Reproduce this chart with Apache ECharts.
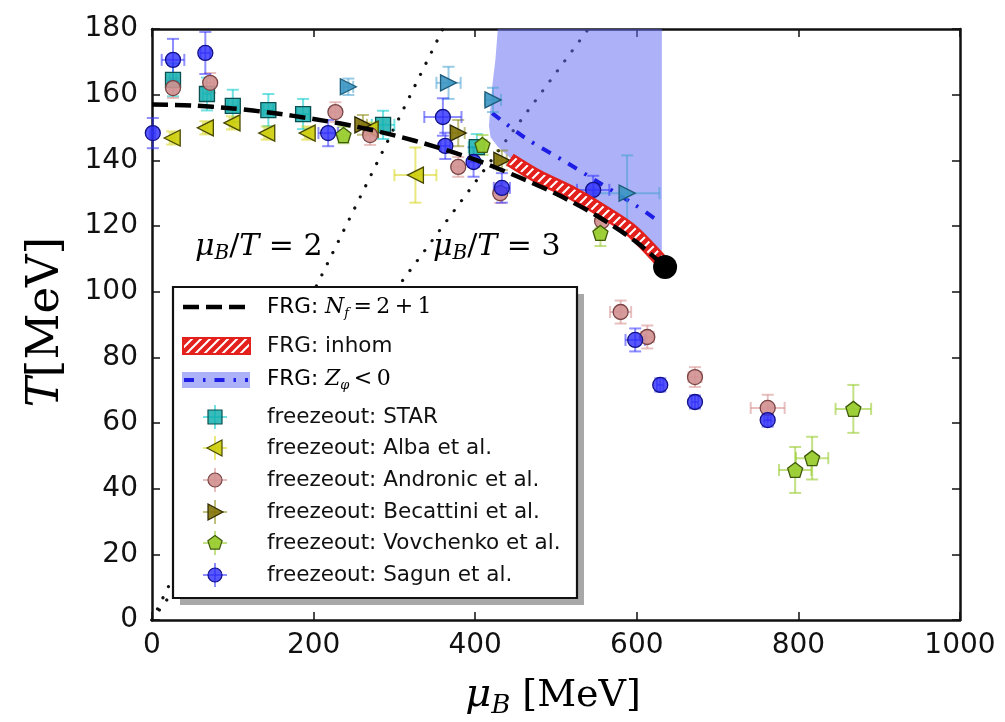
<!DOCTYPE html>
<html><head><meta charset="utf-8">
<script src="https://cdn.jsdelivr.net/npm/echarts@6/dist/echarts.min.js"></script>
<style>html,body{margin:0;padding:0;background:#fff}#c{width:1005px;height:722px}</style>
</head><body><div id="c"></div>
<script>
// ---------- data ----------
const xTicks = [0, 200, 400, 600, 800, 1000];
const yTicks = [0, 20, 40, 60, 80, 100, 120, 140, 160, 180];

// FRG Nf=2+1 crossover line
const frgMu = [0, 50, 100, 150, 200, 250, 300, 350, 400, 450, 500, 550, 600, 635];
const frgT  = [157.0, 156.7, 155.8, 154.4, 152.6, 150.4, 147.6, 144.2, 140.2, 135.3, 129.8, 123.2, 115.0, 107.5];
const cepMu = [635];
const cepT  = [107.5];

// FRG inhomogeneous band (centre line)
const inhomMu = [443, 478, 520, 561, 594, 635];
const inhomT  = [140.2, 135.0, 130.0, 124.0, 118.5, 108.0];

// FRG Z_phi < 0 region boundary and line
const zRegionMu = [428, 425, 421, 418.6, 417, 419, 428, 443, 458, 499, 540, 582, 610, 631, 631];
const zRegionT  = [180, 170.6, 162.4, 155.3, 150.5, 147.0, 144.1, 140.8, 138.5, 133.0, 127.5, 121.0, 115.5, 110.0, 180];
const zLineMu = [421, 462, 508, 552, 598, 625];
const zLineT  = [154.4, 146.8, 140.1, 133.4, 126.4, 121.8];

// mu_B / T = const lines
const ratio2Mu = [0, 360];
const ratio2T  = [0, 180];
const ratio3Mu = [0, 540];
const ratio3T  = [0, 180];

// freeze-out data: mu, T, mu error, T error
const starMu = [26, 68, 100, 144, 187, 286, 402];
const starT  = [164.5, 160.2, 156.6, 155.3, 154.1, 150.8, 144.0];
const starMuErr = [4, 5, 6, 6, 8, 14, 10];
const starTErr  = [5, 5, 4.9, 4.9, 4.6, 4.3, 4.0];

const albaMu = [25, 66, 99, 142, 192, 270, 326];
const albaT  = [146.8, 149.9, 151.4, 148.3, 148.3, 149.5, 135.5];
const albaMuErr = [3, 3, 3, 3, 3, 4, 26];
const albaTErr  = [2, 2, 2, 2, 2, 2, 8.4];

const andMu = [26, 72, 227, 270, 379, 431, 557, 580, 613, 672, 762];
const andT  = [162.0, 163.6, 154.7, 147.7, 138.0, 130.0, 121.5, 93.8, 86.2, 74.0, 64.6];
const andMuErr = [4, 5, 6, 6, 6, 6, 6, 13, 8, 8, 21];
const andTErr  = [3, 3, 3, 3, 3, 3, 3, 3.5, 3.5, 3, 4];

const becMu = [261, 379, 433];
const becT  = [150.8, 148.3, 140.0];
const becMuErr = [5, 8, 6];
const becTErr  = [3, 4, 3];

const bec2Mu = [243, 367, 422, 588];
const bec2T  = [162.4, 163.6, 158.4, 130.0];
const bec2MuErr = [6, 15, 10, 40];
const bec2TErr  = [2.5, 4.9, 3.7, 11.5];

const vovMu = [237, 409, 555, 796, 817, 868];
const vovT  = [147.7, 144.7, 117.9, 45.7, 49.3, 64.3];
const vovMuErr = [4, 5, 6, 20, 20, 22];
const vovTErr  = [2.5, 3, 4, 7, 6.5, 7.3];

const sagMu = [1, 26, 66, 218, 360, 363, 398, 433, 546, 598, 629, 672, 762];
const sagT  = [148.3, 170.6, 172.7, 148.3, 153.2, 144.4, 139.5, 131.6, 131.0, 85.3, 71.6, 66.4, 60.9];
const sagMuErr = [3, 14, 6, 12, 23, 6, 6, 10, 20, 12, 4, 4, 4];
const sagTErr  = [4.6, 6.4, 6.4, 4.0, 5.7, 4.0, 4.5, 4.5, 4.3, 3.5, 2, 2, 2];

// ---------- helpers ----------
const zip = (a, b) => a.map((v, i) => [v, b[i]]);
const SQ = 'rect';
const TRI_L = 'path://M-10,0 L8,-10 L8,10 Z';
const TRI_R = 'path://M10,0 L-8,-10 L-8,10 Z';
const PENT = 'path://M0,-10 L9.51,-3.09 L5.88,8.09 L-5.88,8.09 L-9.51,-3.09 Z';

function hatchCanvas() {
  const c = document.createElement('canvas');
  c.width = 9; c.height = 9;
  const g = c.getContext('2d');
  g.fillStyle = '#e3201c'; g.fillRect(0, 0, 9, 9);
  g.strokeStyle = '#ffffff'; g.lineWidth = 2;
  g.beginPath();
  g.moveTo(-2, 11); g.lineTo(11, -2);
  g.moveTo(-2, 2); g.lineTo(2, -2);
  g.moveTo(7, 11); g.lineTo(11, 7);
  g.stroke();
  return c;
}
const hatch = hatchCanvas();

const errRender = (color) => (params, api) => {
  const x = api.value(0), y = api.value(1), xe = api.value(2), ye = api.value(3);
  const c = api.coord([x, y]);
  const cap = 6, st = { stroke: color, lineWidth: 2 };
  const ch = [];
  if (ye > 0) {
    const t = api.coord([x, y + ye]), b = api.coord([x, y - ye]);
    ch.push({ type: 'line', shape: { x1: c[0], y1: t[1], x2: c[0], y2: b[1] }, style: st });
    ch.push({ type: 'line', shape: { x1: c[0] - cap, y1: t[1], x2: c[0] + cap, y2: t[1] }, style: st });
    ch.push({ type: 'line', shape: { x1: c[0] - cap, y1: b[1], x2: c[0] + cap, y2: b[1] }, style: st });
  }
  if (xe > 0) {
    const l = api.coord([x - xe, y]), r = api.coord([x + xe, y]);
    ch.push({ type: 'line', shape: { x1: l[0], y1: c[1], x2: r[0], y2: c[1] }, style: st });
    ch.push({ type: 'line', shape: { x1: l[0], y1: c[1] - cap, x2: l[0], y2: c[1] + cap }, style: st });
    ch.push({ type: 'line', shape: { x1: r[0], y1: c[1] - cap, x2: r[0], y2: c[1] + cap }, style: st });
  }
  return { type: 'group', children: ch };
};

function freeze(name, mu, T, muE, TE, sym, size, fill, edge, errC) {
  return [
    { type: 'custom', name: name + ' err', z: 4, silent: true,
      data: mu.map((m, i) => [m, T[i], muE[i], TE[i]]),
      encode: { x: 0, y: 1 }, renderItem: errRender(errC) },
    { type: 'scatter', name: name, z: 5, silent: true,
      data: zip(mu, T), symbol: sym, symbolSize: size,
      itemStyle: { color: fill, borderColor: edge, borderWidth: 1.3, opacity: 1 } }
  ];
}

const C = {
  star: ['rgba(20,175,175,0.85)', '#0b5050', 'rgba(0,200,200,0.55)'],
  alba: ['rgba(205,205,10,0.9)', '#4a4a00', 'rgba(210,210,0,0.5)'],
  and:  ['rgba(210,145,145,0.9)', '#7a4444', 'rgba(215,140,140,0.55)'],
  bec:  ['rgba(130,115,10,0.9)', '#2e2800', 'rgba(130,130,0,0.5)'],
  bec2: ['rgba(60,150,195,0.9)', '#1d5c7a', 'rgba(70,160,210,0.55)'],
  vov:  ['rgba(154,205,50,0.95)', '#3f5a0a', 'rgba(154,205,50,0.6)'],
  sag:  ['rgba(45,45,250,0.8)', '#10108a', 'rgba(50,50,255,0.55)']
};

const axisCommon = {
  type: 'value',
  axisLine: { show: true, onZero: false, lineStyle: { color: '#111', width: 2.5 } },
  axisTick: { show: true, inside: true, length: 8, lineStyle: { color: '#111', width: 1.5 } },
  splitLine: { show: false }
};
const labelStyle = { fontSize: 28, color: '#111', fontFamily: 'DejaVu Sans', formatter: v => String(v) };

const series = [
  { type: 'line', z: 1, data: zip(ratio2Mu, ratio2T), symbol: 'none', silent: true,
    lineStyle: { color: '#111', width: 3.2, type: [0.01, 12.4], cap: 'round' } },
  { type: 'line', z: 1, data: zip(ratio3Mu, ratio3T), symbol: 'none', silent: true,
    lineStyle: { color: '#111', width: 3.2, type: [0.01, 12.4], cap: 'round' } },
  { type: 'custom', z: 2, silent: true, data: [[zRegionMu[0], zRegionT[0]]],
    encode: { x: 0, y: 1 },
    renderItem: (params, api) => ({
      type: 'polygon',
      shape: { points: zRegionMu.map((m, i) => api.coord([m, zRegionT[i]])), smooth: 0 },
      style: { fill: 'rgba(95,105,242,0.52)', stroke: 'none' }
    }) },
  { type: 'line', z: 3, data: zip(zLineMu, zLineT), symbol: 'none', smooth: 0.3, silent: true,
    lineStyle: { color: '#1d1de6', width: 4, type: [10, 9, 2.5, 9] } },
  ...freeze('STAR', starMu, starT, starMuErr, starTErr, SQ, 15, ...C.star),
  ...freeze('Alba', albaMu, albaT, albaMuErr, albaTErr, TRI_L, 16, ...C.alba),
  ...freeze('Andronic', andMu, andT, andMuErr, andTErr, 'circle', 15, ...C.and),
  ...freeze('Becattini', becMu, becT, becMuErr, becTErr, TRI_R, 16, ...C.bec),
  ...freeze('Becattini2', bec2Mu, bec2T, bec2MuErr, bec2TErr, TRI_R, 16, ...C.bec2),
  ...freeze('Vovchenko', vovMu, vovT, vovMuErr, vovTErr, PENT, 15, ...C.vov),
  ...freeze('Sagun', sagMu, sagT, sagMuErr, sagTErr, 'circle', 15, ...C.sag),
  { type: 'line', z: 6, data: zip(inhomMu, inhomT), symbol: 'none', smooth: 0.3, silent: true,
    lineStyle: { color: '#e3201c', width: 14, cap: 'butt' } },
  { type: 'line', z: 6, data: zip(inhomMu, inhomT), symbol: 'none', smooth: 0.3, silent: true,
    lineStyle: { color: { image: hatch, repeat: 'repeat' }, width: 9, cap: 'butt' } },
  { type: 'line', z: 7, data: zip(frgMu, frgT), symbol: 'none', smooth: 0.3, silent: true,
    lineStyle: { color: '#000', width: 4.5, type: [16, 7] } },
  { type: 'scatter', z: 8, data: zip(cepMu, cepT), symbol: 'circle', symbolSize: 24, silent: true,
    itemStyle: { color: '#000', opacity: 1 } }
];

// ---------- legend (drawn) ----------
const LX = 173, LY = 287, LW = 404, LH = 311;
const legendText = { fontFamily: 'DejaVu Sans', fontSize: 21.5, fill: '#111' };
const mathRich = {
  r: { fontFamily: 'DejaVu Sans', fontSize: 21.5, color: '#111', lineHeight: 26 },
  mi: { fontFamily: 'DejaVu Serif', fontStyle: 'italic', fontSize: 22, color: '#111', lineHeight: 26 },
  sub: { fontFamily: 'DejaVu Serif', fontStyle: 'italic', fontSize: 13, color: '#111', lineHeight: 13, verticalAlign: 'bottom' },
  mn: { fontFamily: 'DejaVu Serif', fontSize: 22, color: '#111', lineHeight: 26 }
};
const legendMarkers = [
  ['freezeout: STAR', SQ, C.star, 417],
  ['freezeout: Alba et al.', TRI_L, C.alba, 448],
  ['freezeout: Andronic et al.', 'circle', C.and, 480],
  ['freezeout: Becattini et al.', TRI_R, C.bec, 512],
  ['freezeout: Vovchenko et al.', PENT, C.vov, 543],
  ['freezeout: Sagun et al.', 'circle', C.sag, 575]
];
function shapeFor(sym, cx, cy, fill, edge) {
  const s = 7;
  const st = { fill, stroke: edge, lineWidth: 1.2 };
  if (sym === 'rect') return { type: 'rect', shape: { x: cx - s, y: cy - s, width: 2 * s, height: 2 * s }, style: st };
  if (sym === 'circle') return { type: 'circle', shape: { cx, cy, r: s }, style: st };
  if (sym === TRI_L) return { type: 'polygon', shape: { points: [[cx - 8, cy], [cx + 7, cy - 8], [cx + 7, cy + 8]] }, style: st };
  if (sym === TRI_R) return { type: 'polygon', shape: { points: [[cx + 8, cy], [cx - 7, cy - 8], [cx - 7, cy + 8]] }, style: st };
  const pts = [];
  for (let k = 0; k < 5; k++) { const a = -Math.PI / 2 + k * 2 * Math.PI / 5; pts.push([cx + 7.5 * Math.cos(a), cy + 7.5 * Math.sin(a)]); }
  return { type: 'polygon', shape: { points: pts }, style: st };
}
const ratioRich = {
  i: { fontFamily: 'DejaVu Serif', fontStyle: 'italic', fontSize: 30, color: '#111', lineHeight: 34 },
  s: { fontFamily: 'DejaVu Serif', fontStyle: 'italic', fontSize: 20, color: '#111', lineHeight: 20, verticalAlign: 'bottom' },
  n: { fontFamily: 'DejaVu Serif', fontSize: 30, color: '#111', lineHeight: 34 }
};
const graphics = [
  { type: 'rect', shape: { x: LX + 7, y: LY + 7, width: LW, height: LH }, style: { fill: '#a8a8a8' }, z: 100 },
  { type: 'rect', shape: { x: LX, y: LY, width: LW, height: LH }, style: { fill: '#fff', stroke: '#111', lineWidth: 2.2 }, z: 101 },
  { type: 'line', shape: { x1: 183, y1: 307, x2: 245, y2: 307 }, style: { stroke: '#000', lineWidth: 4.5, lineDash: [16, 7] }, z: 102 },
  { type: 'text', x: 267, y: 307, z: 102, style: { rich: mathRich, text: '{r|FRG: }{mi|N}{sub|f}{mn|\u2009=\u20092\u2009+\u20091}', verticalAlign: 'middle' } },
  { type: 'rect', shape: { x: 183, y: 338, width: 67, height: 16 }, style: { fill: { image: hatch, repeat: 'repeat' }, stroke: '#e3201c', lineWidth: 2 }, z: 102 },
  { type: 'text', x: 267, y: 346, z: 102, style: Object.assign({ text: 'FRG: inhom', verticalAlign: 'middle' }, legendText) },
  { type: 'rect', shape: { x: 182, y: 372, width: 68, height: 16 }, style: { fill: 'rgba(95,105,242,0.52)' }, z: 102 },
  { type: 'line', shape: { x1: 184, y1: 380, x2: 248, y2: 380 }, style: { stroke: '#1d1de6', lineWidth: 4, lineDash: [10, 9, 2.5, 9] }, z: 103 },
  { type: 'text', x: 267, y: 379, z: 102, style: { rich: mathRich, text: '{r|FRG: }{mi|Z}{sub|φ}{mn|\u2009<\u20090}', verticalAlign: 'middle' } },
  // axis titles
  { type: 'text', x: 46, y: 322, rotation: Math.PI / 2, z: 102,
    style: { text: '{i|T}{n|[MeV]}', align: 'center', verticalAlign: 'middle',
      rich: { i: { fontFamily: 'DejaVu Serif', fontStyle: 'italic', fontSize: 45, color: '#111' },
              n: { fontFamily: 'DejaVu Serif', fontSize: 45, color: '#111' } } } },
  { type: 'text', x: 553, y: 696, z: 102,
    style: { text: '{i|μ}{s|B}{n| [MeV]}', align: 'center', verticalAlign: 'middle',
      rich: { i: { fontFamily: 'DejaVu Serif', fontStyle: 'italic', fontSize: 40, color: '#111', lineHeight: 46 },
              s: { fontFamily: 'DejaVu Serif', fontStyle: 'italic', fontSize: 26, color: '#111', lineHeight: 26, verticalAlign: 'bottom' },
              n: { fontFamily: 'DejaVu Serif', fontSize: 38, color: '#111', lineHeight: 46 } } } },
  // ratio labels
  { type: 'text', x: 195, y: 247, z: 102,
    style: { text: '{i|μ}{s|B}{n|/}{i|T}{n| = 2}', verticalAlign: 'middle', rich: ratioRich } },
  { type: 'text', x: 433, y: 247, z: 102,
    style: { text: '{i|μ}{s|B}{n|/}{i|T}{n| = 3}', verticalAlign: 'middle', rich: ratioRich } }
];
legendMarkers.forEach(([txt, sym, col, y]) => {
  graphics.push({ type: 'line', shape: { x1: 215, y1: y - 12, x2: 215, y2: y + 12 }, style: { stroke: col[2], lineWidth: 2 }, z: 102 });
  graphics.push({ type: 'line', shape: { x1: 203, y1: y, x2: 227, y2: y }, style: { stroke: col[2], lineWidth: 2 }, z: 102 });
  graphics.push(Object.assign(shapeFor(sym, 215, y, col[0], col[1]), { z: 103 }));
  graphics.push({ type: 'text', x: 267, y: y, z: 102, style: Object.assign({ text: txt, verticalAlign: 'middle' }, legendText) });
});

const chart = echarts.init(document.getElementById('c'), null, { renderer: 'canvas' });
chart.setOption({
  animation: false,
  backgroundColor: '#fff',
  grid: { left: 152, right: 45, top: 29, bottom: 102, containLabel: false },
  xAxis: [
    Object.assign({}, axisCommon, { min: xTicks[0], max: xTicks[xTicks.length - 1], interval: xTicks[1] - xTicks[0], position: 'bottom',
      axisLabel: Object.assign({ margin: 12 }, labelStyle) }),
    Object.assign({}, axisCommon, { min: xTicks[0], max: xTicks[xTicks.length - 1], interval: xTicks[1] - xTicks[0], position: 'top',
      axisLabel: { show: false } })
  ],
  yAxis: [
    Object.assign({}, axisCommon, { min: yTicks[0], max: yTicks[yTicks.length - 1], interval: yTicks[1] - yTicks[0], position: 'left',
      axisLabel: Object.assign({ margin: 14 }, labelStyle) }),
    Object.assign({}, axisCommon, { min: yTicks[0], max: yTicks[yTicks.length - 1], interval: yTicks[1] - yTicks[0], position: 'right',
      axisLabel: { show: false } })
  ],
  series: series,
  graphic: graphics
});
</script></body></html>
